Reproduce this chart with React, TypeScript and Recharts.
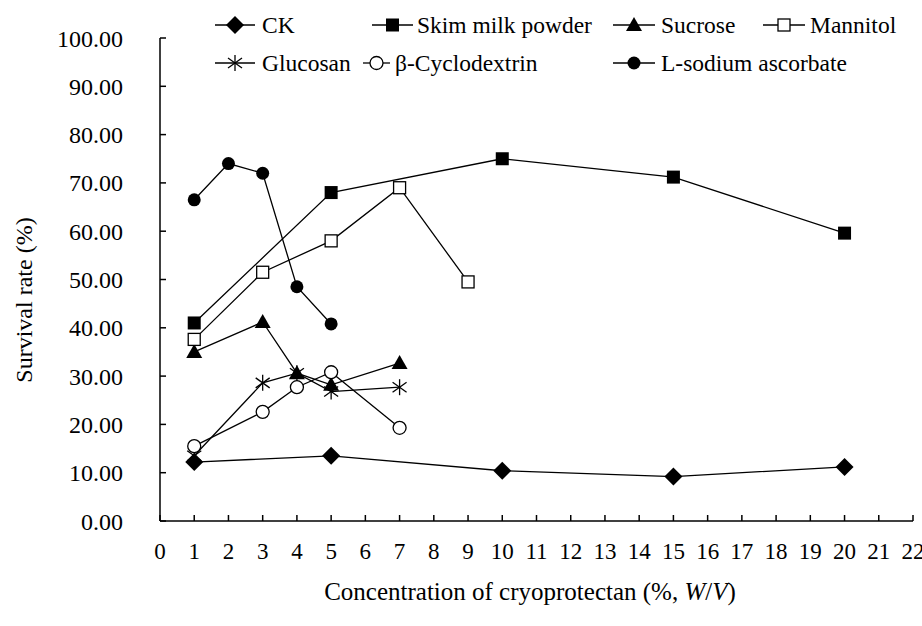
import React from 'react';
import { LineChart, Line, XAxis, YAxis, Legend } from 'recharts';

// concentration (%, W/V) and survival rate (%) per cryoprotectant
const ckConc = [1, 5, 10, 15, 20];
const ckRate = [12.2, 13.5, 10.4, 9.2, 11.2];

const skimConc = [1, 5, 10, 15, 20];
const skimRate = [41.0, 68.0, 75.0, 71.2, 59.6];

const sucroseConc = [1, 3, 4, 5, 7];
const sucroseRate = [35.0, 41.2, 30.6, 28.2, 32.7];

const mannitolConc = [1, 3, 5, 7, 9];
const mannitolRate = [37.6, 51.5, 58.0, 69.0, 49.5];

const glucosanConc = [1, 3, 4, 5, 7];
const glucosanRate = [13.5, 28.6, 30.6, 26.8, 27.7];

const cycloConc = [1, 3, 4, 5, 7];
const cycloRate = [15.5, 22.6, 27.7, 30.8, 19.3];

const ascorbateConc = [1, 2, 3, 4, 5];
const ascorbateRate = [66.5, 74.0, 72.0, 48.5, 40.8];

const xTicks = [0, 1, 2, 3, 4, 5, 6, 7, 8, 9, 10, 11, 12, 13, 14, 15, 16, 17, 18, 19, 20, 21, 22];
const yTicks = [0, 10, 20, 30, 40, 50, 60, 70, 80, 90, 100];

const toRows = (xs: number[], ys: number[]) => xs.map((x, i) => ({ conc: x, rate: ys[i] }));

const FONT = '"Liberation Serif", "Times New Roman", serif';

type Shape = 'diamond' | 'square' | 'triangle' | 'openSquare' | 'asterisk' | 'openCircle' | 'circle';

const Marker = ({ cx, cy, shape }: { cx: number; cy: number; shape: Shape }) => {
  switch (shape) {
    case 'diamond':
      return <path d={`M${cx},${cy - 9}L${cx + 9},${cy}L${cx},${cy + 9}L${cx - 9},${cy}Z`} fill="#000" />;
    case 'square':
      return <rect x={cx - 6.5} y={cy - 6.5} width={13} height={13} fill="#000" />;
    case 'triangle':
      return <path d={`M${cx},${cy - 8}L${cx + 8},${cy + 6}L${cx - 8},${cy + 6}Z`} fill="#000" />;
    case 'openSquare':
      return <rect x={cx - 6} y={cy - 6} width={12} height={12} fill="#fff" stroke="#000" strokeWidth={1.3} />;
    case 'asterisk':
      return (
        <g stroke="#000" strokeWidth={1.3}>
          <line x1={cx} y1={cy - 8} x2={cx} y2={cy + 8} />
          <line x1={cx - 7} y1={cy - 5} x2={cx + 7} y2={cy + 5} />
          <line x1={cx - 7} y1={cy + 5} x2={cx + 7} y2={cy - 5} />
        </g>
      );
    case 'openCircle':
      return <circle cx={cx} cy={cy} r={6.5} fill="#fff" stroke="#000" strokeWidth={1.3} />;
    default:
      return <circle cx={cx} cy={cy} r={6.5} fill="#000" />;
  }
};

const dotFor = (shape: Shape) => (p: any) => <Marker key={`${shape}-${p.index}`} cx={p.cx} cy={p.cy} shape={shape} />;

const series: { name: string; shape: Shape; rows: { conc: number; rate: number }[] }[] = [
  { name: 'CK', shape: 'diamond', rows: toRows(ckConc, ckRate) },
  { name: 'Skim milk powder', shape: 'square', rows: toRows(skimConc, skimRate) },
  { name: 'Sucrose', shape: 'triangle', rows: toRows(sucroseConc, sucroseRate) },
  { name: 'Mannitol', shape: 'openSquare', rows: toRows(mannitolConc, mannitolRate) },
  { name: 'Glucosan', shape: 'asterisk', rows: toRows(glucosanConc, glucosanRate) },
  { name: 'β-Cyclodextrin', shape: 'openCircle', rows: toRows(cycloConc, cycloRate) },
  { name: 'L-sodium ascorbate', shape: 'circle', rows: toRows(ascorbateConc, ascorbateRate) },
];

// legend placement taken from the reference layout
const legendSlots: Record<string, { x0: number; x1: number; tx: number; y: number }> = {
  CK: { x0: 215, x1: 255, tx: 262, y: 25 },
  'Skim milk powder': { x0: 372, x1: 413, tx: 417, y: 25 },
  Sucrose: { x0: 613, x1: 655, tx: 661, y: 25 },
  Mannitol: { x0: 763, x1: 805, tx: 810, y: 25 },
  Glucosan: { x0: 215, x1: 255, tx: 262, y: 63 },
  'β-Cyclodextrin': { x0: 363, x1: 390, tx: 395, y: 63 },
  'L-sodium ascorbate': { x0: 613, x1: 655, tx: 661, y: 63 },
};

const renderLegend = () => (
  <svg width={922} height={90} style={{ display: 'block' }}>
    {series.map((s) => {
      const slot = legendSlots[s.name];
      return (
        <g key={s.name}>
          <line x1={slot.x0} y1={slot.y} x2={slot.x1} y2={slot.y} stroke="#000" strokeWidth={1.3} />
          <Marker cx={(slot.x0 + slot.x1) / 2} cy={slot.y} shape={s.shape} />
          <text x={slot.tx} y={slot.y} dominantBaseline="central" fontFamily={FONT} fontSize={23.5} fill="#000">
            {s.name}
          </text>
        </g>
      );
    })}
  </svg>
);

const App: React.FC = () => {
  return (
    <div style={{ width: 922, height: 626, background: '#fff', position: 'absolute', left: 0, top: 0 }}>
      <style>{`body{margin:0}`}</style>
      <LineChart width={922} height={626} margin={{ top: 38, right: 9, left: 60, bottom: 45 }}>
        <XAxis
          type="number"
          dataKey="conc"
          domain={[0, 22]}
          ticks={xTicks}
          interval={0}
          allowDuplicatedCategory={false}
          height={60}
          stroke="#000"
          strokeWidth={1.5}
          tickSize={-6}
          tickMargin={28}
          tick={{ fill: '#000', fontSize: 23, fontFamily: FONT }}
          label={{
            content: () => (
              <text x={530} y={600} textAnchor="middle" fontFamily={FONT} fontSize={25} fill="#000">
                Concentration of cryoprotectan (%, <tspan fontStyle="italic">W</tspan>/
                <tspan fontStyle="italic">V</tspan>)
              </text>
            ),
          }}
        />
        <YAxis
          type="number"
          domain={[0, 100]}
          ticks={yTicks}
          interval={0}
          width={100}
          stroke="#000"
          strokeWidth={1.5}
          tickSize={-6}
          tickMargin={43}
          tickFormatter={(v: number) => v.toFixed(2)}
          tick={{ fill: '#000', fontSize: 24, fontFamily: FONT }}
          label={{
            content: () => (
              <text
                x={24}
                y={300}
                transform="rotate(-90 24 300)"
                textAnchor="middle"
                dominantBaseline="central"
                fontFamily={FONT}
                fontSize={24}
                fill="#000"
              >
                Survival rate (%)
              </text>
            ),
          }}
        />
        <Legend
          layout="horizontal"
          verticalAlign="middle"
          align="center"
          wrapperStyle={{ top: 0, left: 0, width: 922, height: 90 }}
          content={renderLegend}
        />
        {series.map((s) => (
          <Line
            key={s.name}
            name={s.name}
            data={s.rows}
            dataKey="rate"
            type="linear"
            stroke="#000"
            strokeWidth={1.3}
            dot={dotFor(s.shape)}
            activeDot={false}
            isAnimationActive={false}
          />
        ))}
      </LineChart>
    </div>
  );
};

export default App;
